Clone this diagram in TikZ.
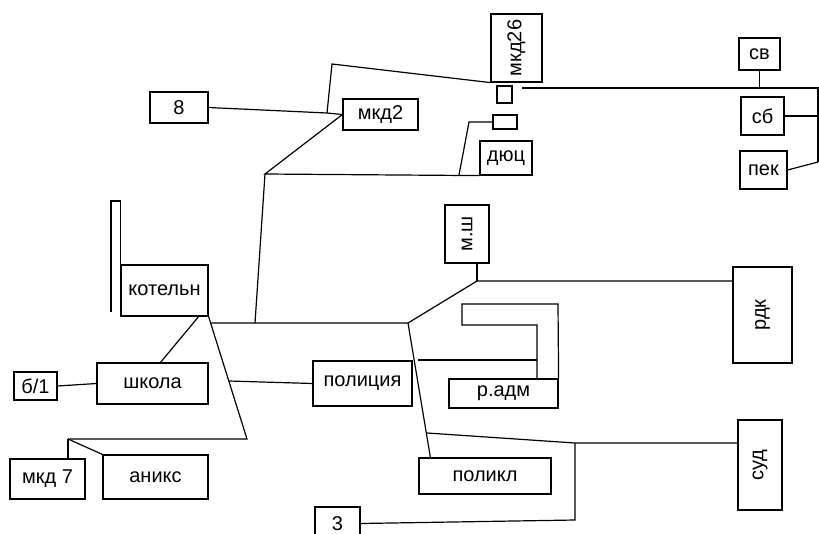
\documentclass[tikz,border=0pt]{standalone}
\usepackage{fontspec}
\setmainfont{Liberation Sans}
\tikzset{
   box/.style = { draw, line width=1.2pt, inner sep=1pt, font=\fontsize{20}{22}\selectfont },
  vbox/.style = { box, rotate=90 },
  wire/.style = { line width=1.2pt },
}

\begin{document}
\begin{tikzpicture}[x=1pt,y=-1pt]
  \fill[white] (0,0) rectangle (819,533);
  \useasboundingbox (0,0) rectangle (819,533);

  % boxes
  \foreach \n/\x/\y/\w/\h/\t in {
      b8/179/107.5/58/31/8,
      mkd2/380.5/114.5/75/31/мкд2,
      sq/504.5/94.5/15/17/{},
      slot/505/122/24/14/{},
      dyuc/506/158/52/34/дюц,
      sv/759.5/54/41/32/св,
      sb/762.5/116/43/38/сб,
      pek/763.5/170/47/38/пек,
      kotel/164.5/290.5/87/51/котельн,
      b1/35.5/386/43/28/{б/1},
      shkola/152.5/383.5/111/41/школа,
      policia/362.5/383.5/99/45/полиция,
      radm/503.5/393.5/109/29/р.адм,
      mkd7/47.5/479/75/40/{мкд 7},
      aniks/155.5/477/105/44/аникс,
      polikl/485/476/132/36/поликл,
      b3/337.5/523.5/45/33/3}
    \node[box, minimum width=\w, minimum height=\h] (\n) at (\x,\y) {\t};

  \node[vbox, minimum width=68, minimum height=51] (mkd26) at (516.5,48) {мкд26};
  \node[vbox, minimum width=58, minimum height=44] (msh) at (467,234) {м.ш};
  \node[vbox, minimum width=96, minimum height=59] (rdk) at (762.5,315) {рдк};
  \node[vbox, minimum width=90, minimum height=44] (sud) at (760,465) {суд};

  % wires
  \coordinate (c1) at (327,113);
  \coordinate (c2) at (332,64);
  \coordinate (j3) at (265,174);
  \coordinate (j2) at (255,323);
  \coordinate (c3) at (459,175);
  \coordinate (c4) at (469,122);
  \coordinate (s1) at (522,88);
  \coordinate (e1) at (818,88);
  \coordinate (e2) at (818,162);
  \coordinate (c5) at (247,439);
  \coordinate (c6) at (68,439);
  \coordinate (j1) at (210,323);
  \coordinate (j4) at (408,323);
  \coordinate (j5) at (477,281);
  \coordinate (c8) at (229,381);
  \coordinate (c10) at (418,360);
  \coordinate (c11) at (427,433);
  \coordinate (c12) at (575,443);
  \coordinate (c13) at (575,520);

  \draw[wire] (b8.east) -- (c1) -- (mkd2.west);
  \draw[wire] (c1) -- (c2) -- (mkd26.north west);
  \draw[wire] (mkd2.west) -- (j3) -- (dyuc.south west);
  \draw[wire] (c3) -- (c4) -- (slot.west);
  \draw[wire] (j3) -- (j2);
  \draw[wire] (s1) -- (e1) -- (e2);
  \draw[wire] (sv.south) -- (sv.south |- e1);
  \draw[wire] (sb.east) -- (sb.east -| e1);
  \draw[wire] (pek.east) -- (e2);
  \draw[wire] (kotel.north west) |- (111,201) -- (111,312);
  \draw[wire] (kotel.south east) -- (c5) -- (c6);
  \draw[wire] (c6) -- (c6 |- mkd7.north);
  \draw[wire] (c6) -- (aniks.north west);
  \draw[wire] ([xshift=-10pt]kotel.south east) -- ([xshift=8pt]shkola.north);
  \draw[wire] (b1.east) -- (shkola.west);
  \draw[wire] (c8) -- (policia.west);
  \draw[wire] (j1) -- (j4) -- (j5) -- (j5 -| rdk.north);
  \draw[wire] (j5) -- (j5 |- msh.west);
  \draw[wire] (j4) -- ([xshift=12pt]polikl.north west);
  \draw[wire] (c10) -- (537,360);
  \draw[wire] (537,379) -- (537,325) -- (462,325) -- (462,304) -- (558,304) -- (radm.north east);
  \draw[wire] (c11) -- (c12) -- (c12 -| sud.north);
  \draw[wire] (b3.east) -- (c13) -- (c12);
\end{tikzpicture}
\end{document}
